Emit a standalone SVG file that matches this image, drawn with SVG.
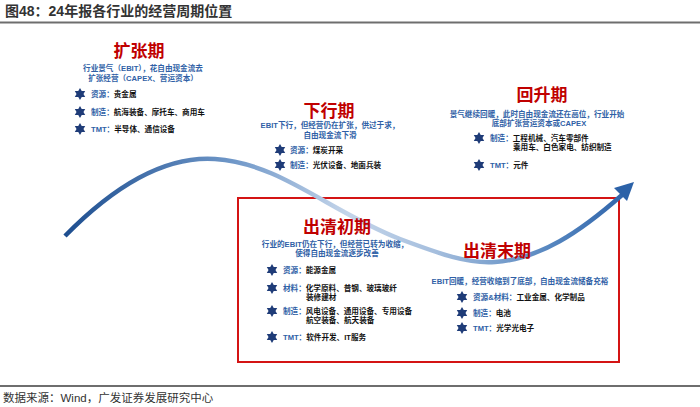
<svg xmlns="http://www.w3.org/2000/svg" xmlns:xlink="http://www.w3.org/1999/xlink" width="700" height="407" viewBox="0 0 700 407">
<style>
text{font-family:"Liberation Sans","Noto Sans CJK SC",sans-serif;}
.cap{font-size:14px;font-weight:bold;fill:#333;}
.src{font-size:11.5px;fill:#333;}
.ttl{font-size:17px;font-weight:bold;fill:#c00000;text-anchor:middle;}
.desc{font-size:7.6px;font-weight:bold;fill:#2f5fa6;text-anchor:middle;}
.it{font-size:7.6px;font-weight:bold;fill:#111;}
.lb{fill:#2f5fa6;}
.star{fill:#1f3c78;}
</style>
<defs>
<path id="st" d="M0,-6 L1.73,-3 L5.2,-3 L3.46,0 L5.2,3 L1.73,3 L0,6 L-1.73,3 L-5.2,3 L-3.46,0 L-5.2,-3 L-1.73,-3 Z"/>
<linearGradient id="cg" gradientUnits="userSpaceOnUse" x1="60" y1="0" x2="635" y2="0">
<stop offset="0" stop-color="#1b4c8e"/>
<stop offset="0.3" stop-color="#6f97c8"/>
<stop offset="0.5" stop-color="#c4d5ea"/>
<stop offset="0.65" stop-color="#a6bfde"/>
<stop offset="0.85" stop-color="#5787c0"/>
<stop offset="1" stop-color="#2a60a8"/>
</linearGradient>
</defs>
<rect width="700" height="407" fill="#fff"/>
<text class="cap" x="5" y="16">图48：24年报各行业的经营周期位置</text>
<rect x="0" y="21.5" width="700" height="2" fill="#6e6e6e"/>
<rect x="0" y="385" width="700" height="2" fill="#6e6e6e"/>
<text class="src" x="3" y="402">数据来源：Wind，广发证券发展研究中心</text>

<g id="connectors">
<rect x="238" y="198" width="381" height="164" fill="none" stroke="#d41414" stroke-width="2"/>
<path d="M65,236 C120,180 170,156 215,159 C280,163 330,212 400,239 C440,254 468,264 495,262 C540,259 580,232 622,195" fill="none" stroke="url(#cg)" stroke-width="4.5" stroke-linecap="butt"/>
<polygon points="634,182 627,201 614,188" fill="#2c62a8"/>
</g>

<g id="expansion">
<text class="ttl" x="139" y="57">扩张期</text>
<text class="desc" x="143" y="71">行业景气（EBIT），花自由现金流去</text>
<text class="desc" x="143" y="81">扩张经营（CAPEX、营运资本）</text>
<use href="#st" class="star" x="80" y="94"/>
<text class="it" x="91" y="97"><tspan class="lb">资源：</tspan>贵金属</text>
<use href="#st" class="star" x="80" y="112"/>
<text class="it" x="91" y="115"><tspan class="lb">制造：</tspan>航海装备、摩托车、商用车</text>
<use href="#st" class="star" x="80" y="129"/>
<text class="it" x="91" y="132"><tspan class="lb">TMT：</tspan>半导体、通信设备</text>
</g>

<g id="downturn">
<text class="ttl" x="329" y="117">下行期</text>
<text class="desc" x="330" y="128">EBIT下行，但经营仍在扩张，供过于求，</text>
<text class="desc" x="330" y="138">自由现金流下滑</text>
<use href="#st" class="star" x="280" y="150"/>
<text class="it" x="290" y="153"><tspan class="lb">资源：</tspan>煤炭开采</text>
<use href="#st" class="star" x="280" y="165"/>
<text class="it" x="290" y="168"><tspan class="lb">制造：</tspan>光伏设备、地面兵装</text>
</g>

<g id="recovery">
<text class="ttl" x="542" y="101">回升期</text>
<text class="desc" x="537" y="117">景气继续回暖，此时自由现金流还在高位，行业开始</text>
<text class="desc" x="539" y="126">底部扩张营运资本或CAPEX</text>
<use href="#st" class="star" x="479" y="138"/>
<text class="it" x="490" y="141"><tspan class="lb">制造：</tspan>工程机械、汽车零部件</text>
<text class="it" x="513" y="150">乘用车、白色家电、纺织制造</text>
<use href="#st" class="star" x="479" y="165"/>
<text class="it" x="490" y="168"><tspan class="lb">TMT：</tspan>元件</text>
</g>

<g id="early-clearing">
<text class="ttl" x="337" y="233">出清初期</text>
<text class="desc" x="335" y="247">行业的EBIT仍在下行，但经营已转为收缩，</text>
<text class="desc" x="337" y="256">使得自由现金流逐步改善</text>
<use href="#st" class="star" x="272" y="270"/>
<text class="it" x="283" y="273"><tspan class="lb">资源：</tspan>能源金属</text>
<use href="#st" class="star" x="272" y="288"/>
<text class="it" x="283" y="291"><tspan class="lb">材料：</tspan>化学原料、普钢、玻璃玻纤</text>
<text class="it" x="306" y="300">装修建材</text>
<use href="#st" class="star" x="272" y="311"/>
<text class="it" x="283" y="314"><tspan class="lb">制造：</tspan>风电设备、通用设备、专用设备</text>
<text class="it" x="306" y="323">航空装备、航天装备</text>
<use href="#st" class="star" x="272" y="337"/>
<text class="it" x="283" y="340"><tspan class="lb">TMT：</tspan>软件开发、IT服务</text>
</g>

<g id="late-clearing">
<text class="ttl" x="497" y="257">出清末期</text>
<text class="desc" x="520" y="284">EBIT回暖，经营收缩到了底部，自由现金流储备充裕</text>
<use href="#st" class="star" x="462" y="297"/>
<text class="it" x="473" y="300"><tspan class="lb">资源&amp;材料：</tspan>工业金属、化学制品</text>
<use href="#st" class="star" x="462" y="313"/>
<text class="it" x="473" y="316"><tspan class="lb">制造：</tspan>电池</text>
<use href="#st" class="star" x="462" y="328"/>
<text class="it" x="473" y="331"><tspan class="lb">TMT：</tspan>光学光电子</text>
</g>
</svg>
